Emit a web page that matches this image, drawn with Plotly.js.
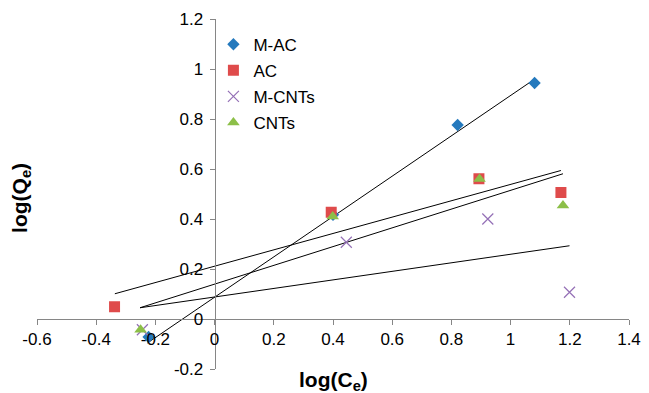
<!DOCTYPE html>
<html>
<head>
<meta charset="utf-8">
<script src="https://cdn.plot.ly/plotly-3.0.1.min.js"></script>
<style>html,body{margin:0;padding:0;background:#fff;}#chart{width:649px;height:393px;}</style>
</head>
<body>
<div id="chart"></div>
<script>
// Series names
var seriesNames = ["M-AC", "AC", "M-CNTs", "CNTs"];

// Data points: log(Ce) and log(Qe)
var macX = [-0.223, 0.400, 0.821, 1.081];
var macY = [-0.072, 0.417, 0.776, 0.944];
var acX = [-0.338, 0.394, 0.893, 1.170];
var acY = [0.049, 0.427, 0.561, 0.506];
var mcntX = [-0.244, 0.445, 0.923, 1.199];
var mcntY = [-0.043, 0.307, 0.400, 0.107];
var cntX = [-0.250, 0.399, 0.895, 1.177];
var cntY = [-0.043, 0.410, 0.560, 0.454];

// Linear trend lines (end points)
var macTrendX = [-0.227, 1.078];
var macTrendY = [-0.096, 0.957];
var acTrendX = [-0.337, 1.170];
var acTrendY = [0.101, 0.594];
var mcntTrendX = [-0.252, 1.199];
var mcntTrendY = [0.045, 0.293];
var cntTrendX = [-0.252, 1.177];
var cntTrendY = [0.045, 0.581];

// Axis ticks
var xTicks = [-0.6, -0.4, -0.2, 0, 0.2, 0.4, 0.6, 0.8, 1, 1.2, 1.4];
var xTickText = ["-0.6", "-0.4", "-0.2", "0", "0.2", "0.4", "0.6", "0.8", "1", "1.2", "1.4"];
var yTicks = [-0.2, 0, 0.2, 0.4, 0.6, 0.8, 1, 1.2];
var yTickText = ["-0.2", "0", "0.2", "0.4", "0.6", "0.8", "1", "1.2"];

var FONT = "Liberation Sans, Arial, sans-serif";

function trend(x, y) {
  return {x: x, y: y, type: "scatter", mode: "lines", showlegend: false,
    hoverinfo: "skip", line: {color: "#000000", width: 1}};
}

var traces = [
  trend(macTrendX, macTrendY),
  trend(acTrendX, acTrendY),
  trend(mcntTrendX, mcntTrendY),
  trend(cntTrendX, cntTrendY),
  {x: macX, y: macY, name: seriesNames[0], legendgroup: "g1", type: "scatter", mode: "markers",
    marker: {symbol: "diamond", size: 9.5, color: "#2479BD"}},
  {x: acX, y: acY, name: seriesNames[1], legendgroup: "g2", type: "scatter", mode: "markers",
    marker: {symbol: "square", size: 11, color: "#DF4B4B"}},
  {x: mcntX, y: mcntY, name: seriesNames[2], legendgroup: "g3", type: "scatter", mode: "markers",
    marker: {symbol: "x-thin-open", size: 11, color: "#9470B6", line: {width: 1.2, color: "#9470B6"}}},
  {x: cntX, y: cntY, name: seriesNames[3], legendgroup: "g4", type: "scatter", mode: "markers",
    marker: {symbol: "triangle-up", size: 11, color: "#8CBF48"}}
];

var layout = {
  width: 649, height: 393,
  margin: {l: 37, r: 20, t: 19, b: 24},
  paper_bgcolor: "#ffffff", plot_bgcolor: "#ffffff",
  font: {family: FONT, color: "#000000", size: 17},
  showlegend: true,
  legend: {x: 0.298, y: 0.978, xanchor: "left", yanchor: "top",
    font: {family: FONT, size: 17, color: "#000000"},
    traceorder: "grouped", tracegroupgap: 1, bgcolor: "rgba(0,0,0,0)"},
  xaxis: {range: [-0.6, 1.4], anchor: "free", position: 0.2 / 1.4,
    tickvals: xTicks, ticktext: xTickText, showgrid: false, zeroline: false,
    showline: true, linecolor: "#868686", linewidth: 1,
    ticks: "outside", ticklen: 5, tickcolor: "#868686", tickwidth: 1,
    tickfont: {family: FONT, size: 17, color: "#000000"}},
  yaxis: {range: [-0.2, 1.2], anchor: "free", position: 0.3,
    tickvals: yTicks, ticktext: yTickText, showgrid: false, zeroline: false,
    showline: true, linecolor: "#868686", linewidth: 1,
    ticks: "outside", ticklen: 5, tickcolor: "#868686", tickwidth: 1,
    ticklabelstandoff: 3,
    tickfont: {family: FONT, size: 17, color: "#000000"}},
  annotations: [
    {text: "<b>log(C<sub>e</sub>)</b>", xref: "paper", yref: "paper", x: 0.5, y: -0.035,
      xanchor: "center", yanchor: "middle", showarrow: false,
      font: {family: FONT, size: 21, color: "#000000"}},
    {text: "<b>log(Q<sub>e</sub>)</b>", xref: "paper", yref: "paper", x: -0.028, y: 0.49,
      xanchor: "center", yanchor: "middle", showarrow: false, textangle: -90,
      font: {family: FONT, size: 21, color: "#000000"}}
  ]
};

Plotly.newPlot("chart", traces, layout, {displayModeBar: false, staticPlot: true});
</script>
</body>
</html>
